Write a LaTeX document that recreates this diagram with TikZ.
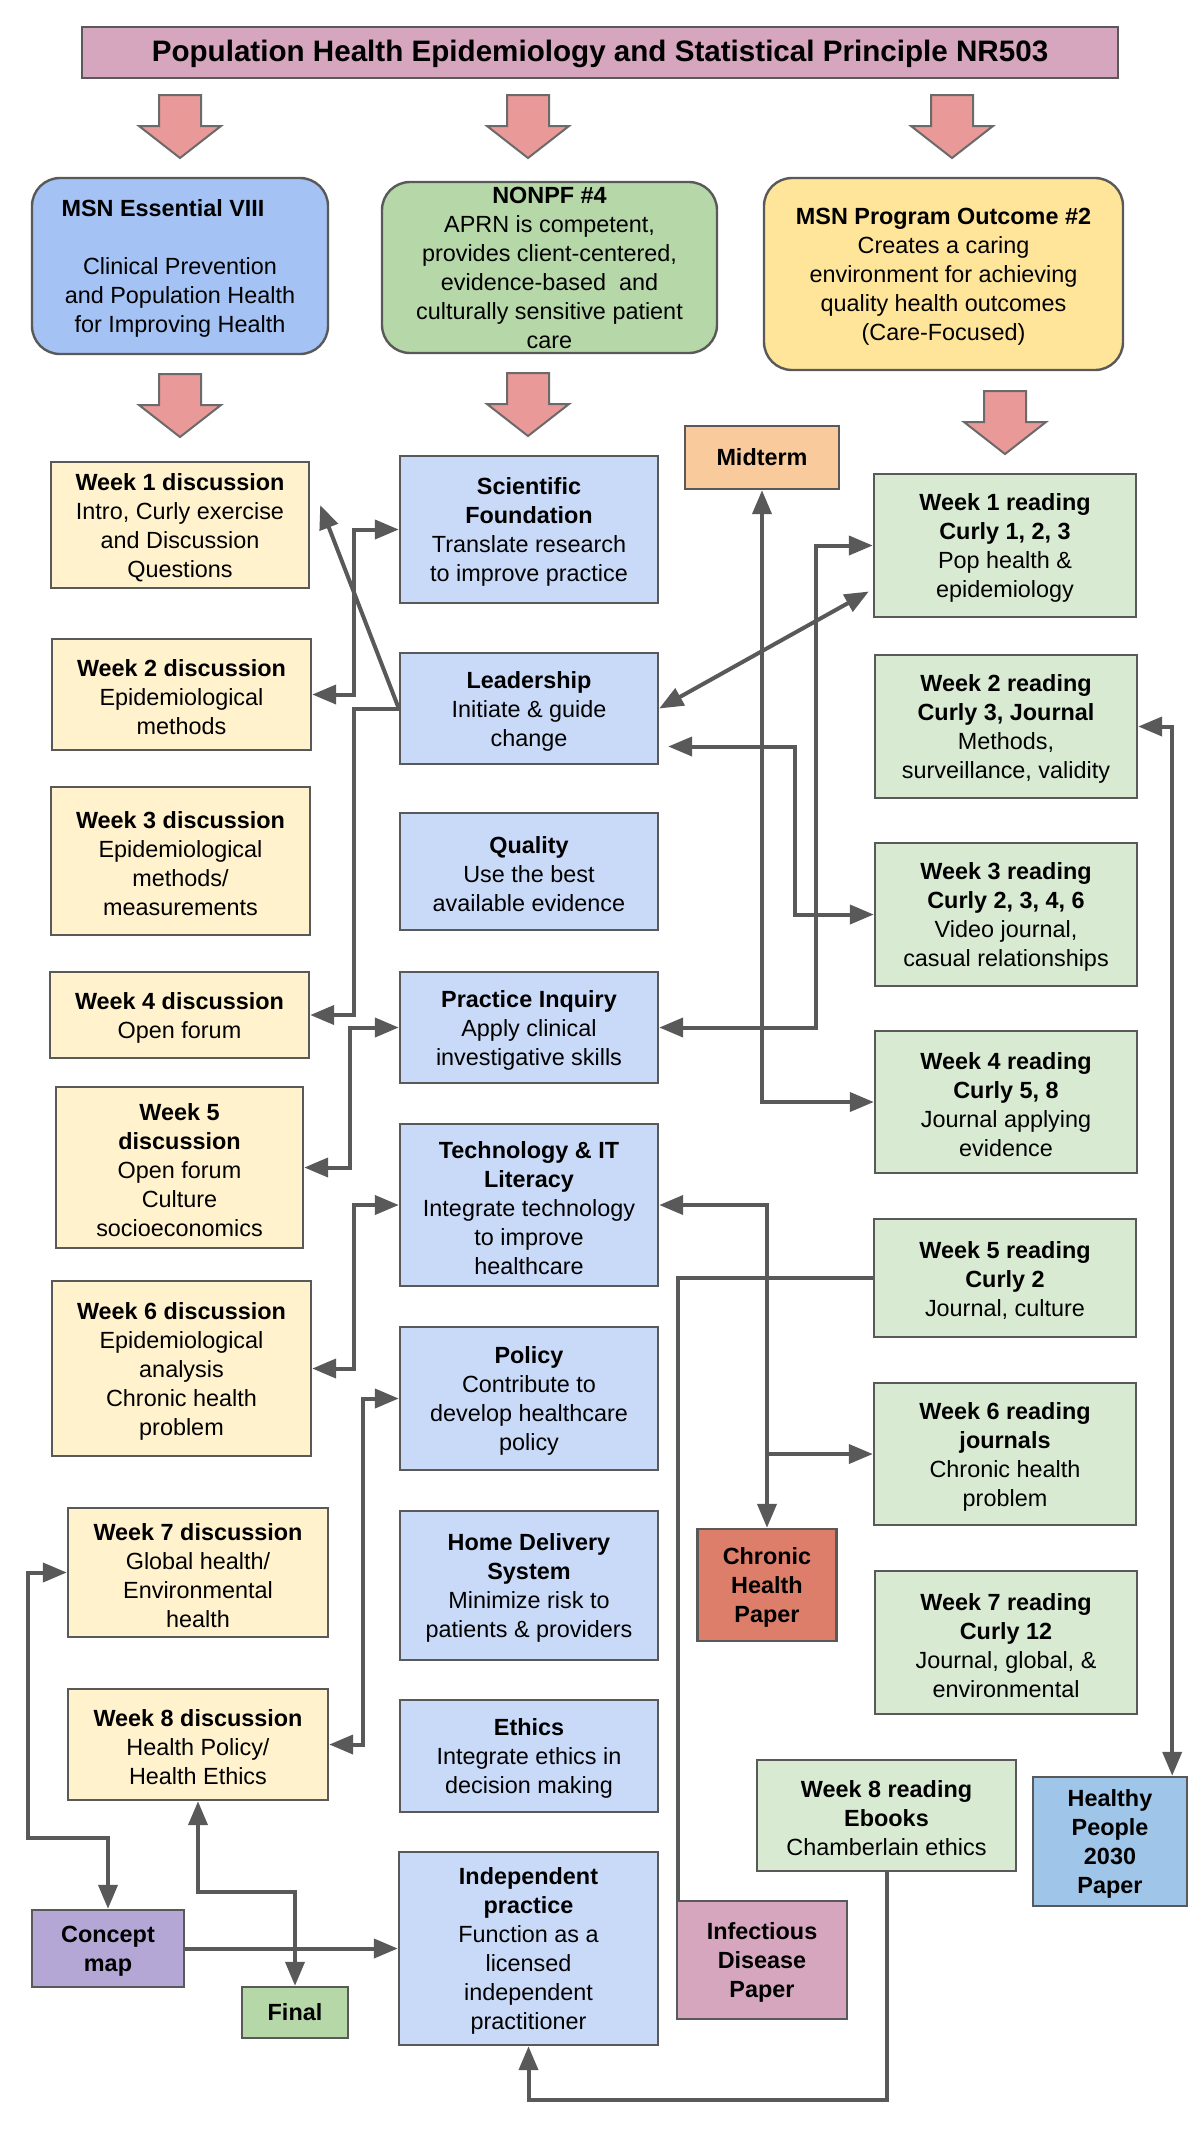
\documentclass[tikz,border=0pt]{standalone}
\usepackage{fontspec}
\setmainfont{Liberation Sans}
\usetikzlibrary{arrows.meta,calc}
\definecolor{titleC}{HTML}{D5A6BD}
\definecolor{essC}{HTML}{A4C2F4}
\definecolor{nonpfC}{HTML}{B6D7A8}
\definecolor{progC}{HTML}{FFE599}
\definecolor{discC}{HTML}{FFF2CC}
\definecolor{blueC}{HTML}{C9DAF8}
\definecolor{readC}{HTML}{D9EAD3}
\definecolor{midC}{HTML}{F9CB9C}
\definecolor{chronC}{HTML}{DD7E6B}
\definecolor{hpC}{HTML}{9FC5E8}
\definecolor{cmapC}{HTML}{B4A7D6}
\definecolor{finalC}{HTML}{B6D7A8}
\definecolor{infC}{HTML}{D5A6BD}
\definecolor{arrowC}{HTML}{EA9999}
\definecolor{lineC}{HTML}{595959}
\newcommand{\pinkarrow}[2]{\filldraw[barrow] (#1,#2) ++(-21,0) -- ++(42,0) -- ++(0,31) -- ++(20,0) -- ++(-41,32) -- ++(-41,-32) -- ++(20,0) -- cycle;}
\newcommand{\ts}{\rule{0pt}{11.3pt}}
\begin{document}
\begin{tikzpicture}[x=0.5pt,y=-0.5pt,
  >={Triangle[length=12pt,width=9.5pt]},
  box/.style={draw=lineC, line width=1.2pt, align=center, inner sep=0pt,
    font=\fontsize{11.7}{14.5}\selectfont},
  rbox/.style={box, rounded corners=14pt},
  bx/.style 2 args={minimum width=#1*0.5pt, minimum height=#2*0.5pt},
  conn/.style={draw=lineC, line width=2pt},
  barrow/.style={fill=arrowC, draw=lineC!90, line width=1pt}]
\fill[white] (0,0) rectangle (1200,2133);
\useasboundingbox (0,0) rectangle (1200,2133);

% title
\node[box, fill=titleC, bx={1036}{51}, font=\bfseries\fontsize{14.8}{17}\selectfont] (title) at (600,52.5)
  {\rule{0pt}{12.2pt}Population Health Epidemiology and Statistical Principle NR503};

% block arrows
\pinkarrow{180}{95}
\pinkarrow{528}{95}
\pinkarrow{952}{95}
\pinkarrow{180}{374}
\pinkarrow{528}{373}
\pinkarrow{1005}{391}

% top boxes
\node[rbox, fill=essC, bx={296}{176}] (ess) at (180,266)
  {\ts\textbf{MSN Essential VIII}\hspace*{17pt}\\[14.5pt] Clinical Prevention\\ and Population Health\\ for Improving Health};
\node[rbox, fill=nonpfC, bx={335}{171}] (nonpf) at (549.5,267.5)
  {\textbf{NONPF \#4}\\ APRN is competent,\\ provides client-centered,\\ evidence-based\ \ and\\ culturally sensitive patient\\ care};
\node[rbox, fill=progC, bx={359}{192}] (prog) at (943.5,274)
  {\ts\textbf{MSN Program Outcome \#2}\\ Creates a caring\\ environment for achieving\\ quality health outcomes\\ (Care-Focused)};

% discussions
\node[box, fill=discC, bx={258}{126}] (d1) at (180,525)
  {\ts\textbf{Week 1 discussion}\\ Intro, Curly exercise\\ and Discussion\\ Questions};
\node[box, fill=discC, bx={259}{111}] (d2) at (181.5,694.5)
  {\ts\textbf{Week 2 discussion}\\ Epidemiological\\ methods};
\node[box, fill=discC, bx={259}{148}] (d3) at (180.5,861)
  {\ts\textbf{Week 3 discussion}\\ Epidemiological\\ methods/\\ measurements};
\node[box, fill=discC, bx={259}{86}] (d4) at (179.5,1015)
  {\ts\textbf{Week 4 discussion}\\ Open forum};
\node[box, fill=discC, bx={247}{161}] (d5) at (179.5,1167.5)
  {\ts\textbf{Week 5}\\ \textbf{discussion}\\ Open forum\\ Culture\\ socioeconomics};
\node[box, fill=discC, bx={259}{175}] (d6) at (181.5,1368.5)
  {\ts\textbf{Week 6 discussion}\\ Epidemiological\\ analysis\\ Chronic health\\ problem};
\node[box, fill=discC, bx={260}{129}] (d7) at (198,1572.5)
  {\ts\textbf{Week 7 discussion}\\ Global health/\\ Environmental\\ health};
\node[box, fill=discC, bx={260}{111}] (d8) at (198,1744.5)
  {\ts\textbf{Week 8 discussion}\\ Health Policy/\\ Health Ethics};

% middle column
\node[box, fill=blueC, bx={258}{147}] (sci) at (529,529.5)
  {\ts\textbf{Scientific}\\ \textbf{Foundation}\\ Translate research\\ to improve practice};
\node[box, fill=blueC, bx={258}{111}] (lead) at (529,708.5)
  {\ts\textbf{Leadership}\\ Initiate \& guide\\ change};
\node[box, fill=blueC, bx={258}{117}] (qual) at (529,871.5)
  {\ts\textbf{Quality}\\ Use the best\\ available evidence};
\node[box, fill=blueC, bx={258}{111}] (prac) at (529,1027.5)
  {\ts\textbf{Practice Inquiry}\\ Apply clinical\\ investigative skills};
\node[box, fill=blueC, bx={258}{162}] (tech) at (529,1205)
  {\ts\textbf{Technology \& IT}\\ \textbf{Literacy}\\ Integrate technology\\ to improve\\ healthcare};
\node[box, fill=blueC, bx={258}{143}] (pol) at (529,1398.5)
  {\ts\textbf{Policy}\\ Contribute to\\ develop healthcare\\ policy};
\node[box, fill=blueC, bx={258}{149}] (home) at (529,1585.5)
  {\ts\textbf{Home Delivery}\\ \textbf{System}\\ Minimize risk to\\ patients \& providers};
\node[box, fill=blueC, bx={258}{112}] (eth) at (529,1756)
  {\ts\textbf{Ethics}\\ Integrate ethics in\\ decision making};
\node[box, fill=blueC, bx={259}{193}] (indep) at (528.5,1948.5)
  {\ts\textbf{Independent}\\ \textbf{practice}\\ Function as a\\ licensed\\ independent\\ practitioner};

% readings
\node[box, fill=midC, bx={154}{63}] (mid) at (762,457.5) {\textbf{Midterm}};
\node[box, fill=readC, bx={262}{143}] (r1) at (1005,545.5)
  {\ts\textbf{Week 1 reading}\\ \textbf{Curly 1, 2, 3}\\ Pop health \&\\ epidemiology};
\node[box, fill=readC, bx={262}{143}] (r2) at (1006,726.5)
  {\ts\textbf{Week 2 reading}\\ \textbf{Curly 3, Journal}\\ Methods,\\ surveillance, validity};
\node[box, fill=readC, bx={262}{143}] (r3) at (1006,914.5)
  {\ts\textbf{Week 3 reading}\\ \textbf{Curly 2, 3, 4, 6}\\ Video journal,\\ casual relationships};
\node[box, fill=readC, bx={262}{142}] (r4) at (1006,1102)
  {\ts\textbf{Week 4 reading}\\ \textbf{Curly 5, 8}\\ Journal applying\\ evidence};
\node[box, fill=readC, bx={262}{118}] (r5) at (1005,1278)
  {\ts\textbf{Week 5 reading}\\ \textbf{Curly 2}\\ Journal, culture};
\node[box, fill=readC, bx={262}{142}] (r6) at (1005,1454)
  {\ts\textbf{Week 6 reading}\\ \textbf{journals}\\ Chronic health\\ problem};
\node[box, fill=readC, bx={262}{143}] (r7) at (1006,1642.5)
  {\ts\textbf{Week 7 reading}\\ \textbf{Curly 12}\\ Journal, global, \&\\ environmental};
\node[box, fill=readC, bx={259}{111}] (r8) at (886.5,1815.5)
  {\ts\textbf{Week 8 reading}\\ \textbf{Ebooks}\\ Chamberlain ethics};

% papers etc.
\node[box, fill=chronC, bx={139}{112}, font=\bfseries\fontsize{11.7}{14.5}\selectfont] (chron) at (767,1585)
  {\ts Chronic\\ Health\\ Paper};
\node[box, fill=hpC, bx={154}{129}, font=\bfseries\fontsize{11.7}{14.5}\selectfont] (hp) at (1110,1841.5)
  {\ts Healthy\\ People\\ 2030\\ Paper};
\node[box, fill=cmapC, bx={152}{77}, font=\bfseries\fontsize{11.7}{14.5}\selectfont] (cmap) at (108,1948.5)
  {\ts Concept\\ map};
\node[box, fill=finalC, bx={106}{51}, font=\bfseries\fontsize{11.7}{14.5}\selectfont] (final) at (295,2012.5)
  {Final};
\node[box, fill=infC, bx={170}{118}, font=\bfseries\fontsize{11.7}{14.5}\selectfont] (inf) at (762,1960)
  {\ts Infectious\\ Disease\\ Paper};

% connectors left
\draw[conn,<->] (sci.west) -- ++(-45,0) |- (d2.east);
\draw[conn,->] (lead.west) -- ($(d1.east)+(10,-20)$);
\draw[conn,->] (lead.west) -- ++(-45,0) |- (d4.east);
\draw[conn,<->] (prac.west) -- ++(-49,0) |- (d5.east);
\draw[conn,<->] (tech.west) -- ++(-45,0) |- (d6.east);
\draw[conn,<->] (pol.west) -- ++(-36,0) |- (d8.east);
\draw[conn,<->] (d7.west) -- ++(-39,0) |- ($(cmap.north)+(0,-71)$) -- (cmap.north);
\draw[conn,<->] (d8.south) |- ($(final.north)+(0,-94)$) -- (final.north);
\draw[conn,->] (cmap.east) -- (indep.west);
\draw[conn,->] (r8.south) |- ($(indep.south)+(0,54)$) -- (indep.south);

% connectors right
\draw[conn] (r5.west) -| ($(inf.north west)+(2,0)$);
\draw[conn,<->] (mid.south) |- (r4.west);
\draw[conn,<->] (r1.west) -- ++(-57,0) |- (prac.east);
\draw[conn,<->] (lead.east) -- ($(r1.west)+(-4,46)$);
\draw[conn,<->] ($(lead.east)+(9,38)$) -- ++(127,0) |- (r3.west);
\draw[conn,<->] (r2.east) -| ($(hp.north east)+(-16,0)$);
\draw[conn,<->] (tech.east) -| (chron.north);
\draw[conn,->] (chron.north |- r6.west) -- (r6.west);
\end{tikzpicture}
\end{document}
